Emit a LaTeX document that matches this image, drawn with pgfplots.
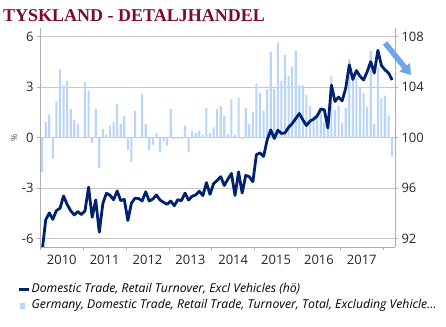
\documentclass[border=0pt]{standalone}
\usepackage{fontspec}
\setmainfont{Open Sans}
\newfontfamily\titlefont{Liberation Serif}
\usepackage{pgfplots}
\pgfplotsset{compat=1.18}
\usepackage{pgfplotstable}
\usetikzlibrary{arrows.meta}
\definecolor{barblue}{RGB}{187,212,250}
\definecolor{navy}{RGB}{0,32,112}
\definecolor{titlered}{RGB}{125,10,45}
\definecolor{gridgray}{RGB}{200,200,200}
\definecolor{axisgray}{RGB}{175,175,175}
\definecolor{arrowblue}{RGB}{110,165,235}

\pgfplotstableread{
i v
0 -2.05
1 0.93
2 1.36
3 -1.26
4 2.15
5 4.05
6 3.1
7 3.37
8 1.7
9 1.04
10 0.82
11 0.02
12 3.27
13 2.77
14 -0.32
15 1.68
16 -1.82
17 0.5
18 0.18
19 0.71
20 0.91
21 1.99
22 0.82
23 1.25
24 -0.75
25 -1.46
26 1.58
27 0.02
28 2.57
29 0.81
30 -0.75
31 -0.43
32 0.28
33 -0.87
34 -0.24
35 -0.47
36 1.7
37 -0.1
38 -0.1
39 -0.1
40 0.71
41 -0.87
42 0.4
43 0.28
44 0.4
45 0.16
46 1.78
47 0.26
48 0.6
49 1.68
50 1.86
51 1.3
52 0.2
53 2.27
54 0.16
55 2.37
56 -0.1
57 1.74
58 0.8
59 1.54
60 3.22
61 2.67
62 1.6
63 2.87
64 5.1
65 2.87
66 5.63
67 3.36
68 4.9
69 3.68
70 4.19
71 5.14
72 3.1
73 3.1
74 2.53
75 1.88
76 1.3
77 1.19
78 1.78
79 0.89
80 0.55
81 3.66
82 1.64
83 1.9
84 0.85
85 1.74
86 4.64
87 3.52
88 3.52
89 2.96
90 2.63
91 1.84
92 5.14
93 0.79
94 4.1
95 2.37
96 2.49
97 1.3
98 -1.13
}\bardata

\pgfplotstableread{
i v
0 91.0
1 93.48
2 94.03
3 93.52
4 94.22
5 94.4
6 95.37
7 94.7
8 94.2
9 93.87
10 94.14
11 93.9
12 94.2
13 96.07
14 93.68
15 95.06
16 92.5
17 94.78
18 95.59
19 95.43
20 95.07
21 95.77
22 95.0
23 95.1
24 93.43
25 94.8
26 95.2
27 95.17
28 94.98
29 95.7
30 94.97
31 95.13
32 95.45
33 95.05
34 94.87
35 94.71
36 94.97
37 94.6
38 95.08
39 95.0
40 95.6
41 95.05
42 95.35
43 95.45
44 95.75
45 95.4
46 96.43
47 95.5
48 96.35
49 96.6
50 96.9
51 96.2
52 96.7
53 97.15
54 95.42
55 97.28
56 95.6
57 97.0
58 96.9
59 96.5
60 98.65
61 98.78
62 98.5
63 99.8
64 100.6
65 99.92
66 100.58
67 100.32
68 100.37
69 100.8
70 101.1
71 101.5
72 101.9
73 101.4
74 100.95
75 101.3
76 101.45
77 101.7
78 102.25
79 102.2
80 100.75
81 104.15
82 102.85
83 103.2
84 102.9
85 103.9
86 105.75
87 104.6
88 105.3
89 104.85
90 104.55
91 105.2
92 106.0
93 105.1
94 106.9
95 105.7
96 105.35
97 105.1
98 104.55
}\idxdata

\begin{document}
\begin{tikzpicture}[x=1pt,y=1pt]
\begin{axis}[
  at={(40pt,79pt)}, anchor=south west,
  scale only axis, width=355pt, height=219pt,
  xmin=-0.6, xmax=98.8, ymin=-6.5, ymax=6.5,
  axis y line*=left, axis x line*=bottom,
  axis line style={axisgray, line width=0.8pt},
  xtick={-0.5,11.5,23.5,35.5,47.5,59.5,71.5,83.5,95.5},
  xticklabels={2010,2011,2012,2013,2014,2015,2016,2017},
  x tick label as interval,
  ytick={-6,-3,0,3,6},
  ymajorgrids, grid style={gridgray, line width=0.8pt},
  tick style={axisgray, line width=0.8pt},
  major tick length=3pt, tick align=outside,
  /pgf/number format/assume math mode=true,
  tick label style={font=\fontsize{13}{15}\selectfont, text=black!85},
  xticklabel style={yshift=-2pt},
  clip=false,
]
\addplot[ybar, bar width=2.1pt, fill=barblue, draw=none] table[x=i,y=v]{\bardata};
\node[rotate=90, font=\fontsize{9}{10}\selectfont, text=black!70] at (rel axis cs:-0.073,0.498) {\%};
\end{axis}
\begin{axis}[
  at={(40pt,79pt)}, anchor=south west,
  scale only axis, width=355pt, height=219pt,
  xmin=-0.6, xmax=98.8, ymin=91.3333, ymax=108.6667,
  axis y line*=right, axis x line=none,
  axis line style={axisgray, line width=0.8pt},
  ytick={92,96,100,104,108},
  tick style={axisgray, line width=0.8pt},
  major tick length=3pt, tick align=outside,
  /pgf/number format/assume math mode=true,
  tick label style={font=\fontsize{13}{15}\selectfont, text=black!85},
  legend style={at={(-0.0648,-0.158)}, anchor=north west, draw=none, fill=none,
    font=\fontsize{12.2}{14}\selectfont\itshape, inner sep=0pt, row sep=0pt,
    nodes={text height=9pt, text depth=3pt, inner ysep=2pt, inner xsep=1.5pt}},
  legend cell align=left,
]
\addplot[navy, line width=2.8pt, line join=round,
  legend image code/.code={\draw[navy, line width=3pt] (0pt,0pt) -- (10pt,0pt);}]
  table[x=i,y=v]{\idxdata};
\addlegendentry{Domestic Trade, Retail Turnover, Excl Vehicles (hö)}
\addlegendimage{legend image code/.code={\fill[barblue] (2pt,-2.2pt) rectangle (6pt,2.2pt);}}
\addlegendentry{Germany, Domestic Trade, Retail Trade, Turnover, Total, Excluding Vehicle…}
\node[rotate=-90, font=\fontsize{9}{10}\selectfont, text=black!70] at (rel axis cs:1.101,0.498) {Index};
\end{axis}
\node[anchor=base west, font=\titlefont\bfseries\fontsize{18}{20}\selectfont, text=titlered, inner sep=0pt] at (3,304.3) {TYSKLAND - DETALJHANDEL};
\draw[-{Triangle[width=13pt,length=10pt]}, line width=5.5pt, arrowblue] (385,283) -- (411,251);
\pgfresetboundingbox
\path (0,0) rectangle (446,326);
\end{tikzpicture}
\end{document}
